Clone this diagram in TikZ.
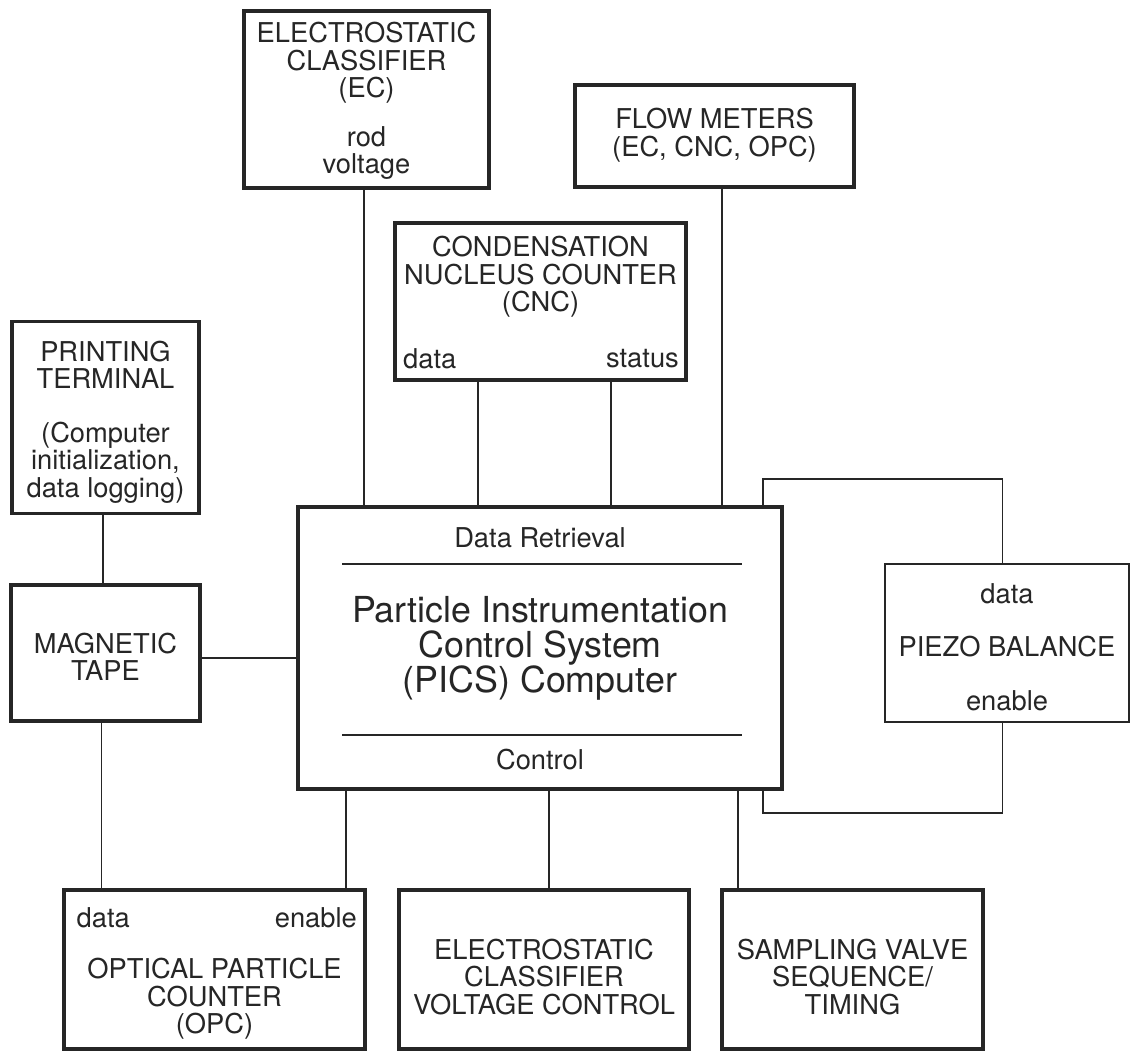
\documentclass[tikz,border=0pt]{standalone}
\usepackage{fontspec}
\setmainfont{TeX Gyre Heros}
\usetikzlibrary{calc}
\definecolor{ink}{HTML}{262626}
\begin{document}
\begin{tikzpicture}[x=1pt,y=-1pt,
  box/.style={draw=ink, line width=3.6pt, rectangle, inner sep=0pt, outer sep=0pt},
  conn/.style={draw=ink, line width=1.9pt},
  lbl/.style={text=ink, font=\fontsize{27.3pt}{27.5pt}\selectfont, align=center, inner sep=0pt},
  big/.style={text=ink, font=\fontsize{35.8pt}{35pt}\selectfont, align=center, inner sep=0pt}]
\useasboundingbox (0,0) rectangle (1134,1051);
\fill[white] (0,0) rectangle (1134,1051);

% boxes
\node[box, minimum width=245pt, minimum height=177pt] (ec) at (366.5,99.5) {};
\node[box, minimum width=279pt, minimum height=102pt] (flow) at (714.5,136) {};
\node[box, minimum width=291pt, minimum height=157pt] (cnc) at (540.5,301.5) {};
\node[box, minimum width=187pt, minimum height=192pt] (term) at (105.5,417.5) {};
\node[box, minimum width=189pt, minimum height=136pt] (tape) at (105.5,653) {};
\node[box, minimum width=484pt, minimum height=282pt] (pics) at (540,648) {};
\node[box, line width=2.9pt, minimum width=244pt, minimum height=158pt] (piezo) at (1007,643) {};
\node[box, minimum width=301pt, minimum height=159pt] (opc) at (214.5,969.5) {};
\node[box, minimum width=290pt, minimum height=159pt] (ecvc) at (544,969.5) {};
\node[box, minimum width=261pt, minimum height=159pt] (samp) at (852.5,969.5) {};

% texts
\node[lbl] (ectxt) at (366.5,101) {ELECTROSTATIC\\CLASSIFIER\\(EC)\\[21pt]rod\\voltage};
\node[lbl] (flowtxt) at (714.5,135) {FLOW METERS\\(EC, CNC, OPC)};
\node[lbl] (cnctxt) at (540.5,277) {CONDENSATION\\NUCLEUS COUNTER\\(CNC)};
\node[lbl, anchor=west] (cncdata) at (403,359) {data};
\node[lbl, anchor=east] (cncstatus) at (679,359) {status};
\node[lbl] (termtxt) at (105.5,422) {PRINTING\\TERMINAL\\[26pt](Computer\\initialization,\\data logging)};
\node[lbl] (tapetxt) at (105.5,657) {MAGNETIC\\TAPE};
\node[lbl] (picsdr) at (540,538) {Data Retrieval};
\node[big] (picstxt) at (540,648) {Particle Instrumentation\\Control System\\(PICS) Computer};
\node[lbl] (picsctl) at (540,760) {Control};
\node[lbl] (pzdata) at (1007,594) {data};
\node[lbl] (pztxt) at (1007,647) {PIEZO BALANCE};
\node[lbl] (pzen) at (1007,701) {enable};
\node[lbl, anchor=west] (opcdata) at (76.5,918) {data};
\node[lbl, anchor=east] (opcen) at (357,918) {enable};
\node[lbl] (opctxt) at (214.5,999) {OPTICAL PARTICLE\\COUNTER\\(OPC)};
\node[lbl] (ecvctxt) at (544,977) {ELECTROSTATIC\\CLASSIFIER\\VOLTAGE CONTROL};
\node[lbl] (samptxt) at (852.5,977) {SAMPLING VALVE\\SEQUENCE/\\TIMING};

% inner separator lines of the PICS box
\coordinate (sepAl) at (342,564);
\coordinate (sepAr) at (742,564);
\coordinate (sepBl) at (342,735);
\coordinate (sepBr) at (742,735);
\draw[conn] (sepAl) -- (sepAr);
\draw[conn] (sepBl) -- (sepBr);

% connectors
\draw[conn] ([xshift=-2.5pt]ec.south) -- ([xshift=-2.5pt]ec.south |- pics.north);
\draw[conn] ([xshift=7.5pt]flow.south) -- ([xshift=7.5pt]flow.south |- pics.north);
\draw[conn] ([xshift=83pt]cnc.south west) -- ([xshift=83pt]cnc.south west |- pics.north);
\draw[conn] ([xshift=-75pt]cnc.south east) -- ([xshift=-75pt]cnc.south east |- pics.north);
\draw[conn] ([xshift=-2.5pt]term.south) -- ([xshift=-2.5pt]term.south |- tape.north);
\draw[conn] ([yshift=-5pt]tape.east) -- ([yshift=-5pt]tape.east -| pics.west);
\draw[conn] ([xshift=-4pt]tape.south) -- ([xshift=-4pt]tape.south |- opc.north);
\draw[conn] ([xshift=48pt]pics.south west) -- ([xshift=48pt]pics.south west |- opc.north);
\draw[conn] ([xshift=9pt]pics.south) -- ([xshift=9pt]pics.south |- ecvc.north);
\draw[conn] ([xshift=16pt]samp.north west) -- ([xshift=16pt]samp.north west |- pics.south);
\draw[conn] ([xshift=-19pt]pics.north east) -- ++(0,-28) -| ([xshift=-4.5pt]piezo.north);
\draw[conn] ([xshift=-19pt]pics.south east) -- ++(0,24) -| ([xshift=-4.5pt]piezo.south);
\end{tikzpicture}
\end{document}
